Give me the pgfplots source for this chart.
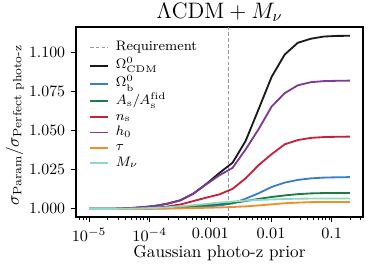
\RequirePackage{fix-cm}
\documentclass[border=0pt]{standalone}
\usepackage{amsmath}
\usepackage{pgfplots}
\usepackage{pgfplotstable}
\pgfplotsset{compat=1.18}
\definecolor{cCDM}{HTML}{1A1A1A}
\definecolor{cOb}{HTML}{3A7DC9}
\definecolor{cAs}{HTML}{1B7C45}
\definecolor{cns}{HTML}{C4213A}
\definecolor{ch}{HTML}{7D3A96}
\definecolor{ctau}{HTML}{EF8F2A}
\definecolor{cmnu}{HTML}{8ED8C5}
\pgfplotstableread{
x        cdm    ob     as     ns     h0     tau    mnu
1.000e-5 1.0000 1.0000 1.0000 1.0000 1.0000 1.0000 1.0000
1.641e-5 1.0000 1.0000 1.0000 1.0000 1.0000 1.0000 1.0000
2.692e-5 1.0001 1.0000 1.0000 1.0000 1.0001 1.0000 1.0000
4.417e-5 1.0004 1.0000 1.0001 1.0001 1.0004 1.0000 1.0001
7.248e-5 1.0010 1.0001 1.0003 1.0003 1.0010 1.0000 1.0003
1.189e-4 1.0018 1.0002 1.0005 1.0007 1.0018 1.0001 1.0006
1.951e-4 1.0033 1.0003 1.0008 1.0015 1.0033 1.0002 1.0010
3.201e-4 1.0055 1.0006 1.0012 1.0028 1.0054 1.0003 1.0016
5.253e-4 1.0098 1.0010 1.0018 1.0050 1.0097 1.0005 1.0024
8.619e-4 1.0160 1.0015 1.0024 1.0072 1.0158 1.0007 1.0032
1.414e-3 1.0230 1.0022 1.0030 1.0093 1.0215 1.0009 1.0040
2.321e-3 1.0295 1.0035 1.0037 1.0128 1.0262 1.0012 1.0047
3.808e-3 1.0434 1.0065 1.0050 1.0195 1.0380 1.0016 1.0053
6.248e-3 1.0638 1.0100 1.0064 1.0280 1.0510 1.0022 1.0057
1.025e-2 1.0845 1.0140 1.0076 1.0350 1.0655 1.0029 1.0060
1.682e-2 1.0987 1.0168 1.0086 1.0413 1.0740 1.0036 1.0063
2.760e-2 1.1062 1.0185 1.0094 1.0440 1.0790 1.0040 1.0065
4.529e-2 1.1088 1.0195 1.0099 1.0454 1.0810 1.0043 1.0066
7.431e-2 1.1102 1.0200 1.0101 1.0459 1.0817 1.0044 1.0066
0.1219   1.1106 1.0202 1.0102 1.0461 1.0819 1.0044 1.0066
0.2      1.1107 1.0203 1.0102 1.0462 1.0820 1.0044 1.0066
}\datatable
\begin{document}
\begin{tikzpicture}
\begin{axis}[
  at={(0pt,0pt)}, anchor=south west,
  scale only axis, width=172.2pt, height=114pt,
  xmode=log, xmin=6.095e-6, xmax=0.3281, ymin=0.9948, ymax=1.1163,
  xtick={1e-5,1e-4,1e-3,1e-2,1e-1},
  xticklabels={$10^{-5}$,$10^{-4}$,$0.001$,$0.01$,$0.1$},
  minor xtick={7e-6,8e-6,9e-6,2e-5,3e-5,4e-5,5e-5,6e-5,7e-5,8e-5,9e-5,2e-4,3e-4,4e-4,5e-4,6e-4,7e-4,8e-4,9e-4,2e-3,3e-3,4e-3,5e-3,6e-3,7e-3,8e-3,9e-3,2e-2,3e-2,4e-2,5e-2,6e-2,7e-2,8e-2,9e-2,0.2,0.3},
  ytick={1,1.025,1.05,1.075,1.1},
  yticklabels={1.000,1.025,1.050,1.075,1.100},
  tick align=outside, xtick pos=bottom, ytick pos=left,
  major tick length=3pt, minor tick length=1.8pt,
  every tick/.style={black, line width=0.5pt},
  axis line style={line width=0.8pt},
  tick label style={font=\fontsize{9.5}{11}\selectfont},
  label style={font=\fontsize{10.3}{12}\selectfont},
  xlabel={Gaussian photo-z prior},
  xlabel style={at={(axis description cs:0.5,0)}, anchor=base, yshift=-24pt},
  ylabel={$\sigma_{\mathrm{Param}}/\sigma_{\text{Perfect photo-z}}$},
  ylabel style={at={(axis description cs:-0.1992,0.484)}, anchor=base, rotate=0},
  legend cell align=left,
  legend style={draw=none, fill=none, at={(0,1)}, anchor=north west, xshift=7.6pt, yshift=-6.9pt,
    font=\fontsize{8.25}{9.5}\selectfont, inner sep=0pt, row sep=0pt,
    nodes={inner sep=0pt, text height=6.4pt, text depth=2.8pt},
    /tikz/every odd column/.append style={column sep=4.2pt}},
  legend image code/.code={\draw[#1] (0pt,0pt) -- (10.8pt,0pt);},
  every axis plot/.append style={line width=1.1pt},
]
\addplot[color=black!40, line width=0.5pt, dash pattern=on 2.2pt off 1.3pt] coordinates {(0.002,0.9948) (0.002,1.1163)};
\addlegendentry[text height=7.2pt, text depth=3.6pt]{Requirement}
\addplot[color=cCDM] table[x=x,y=cdm]{\datatable};
\addlegendentry[text height=7.2pt, text depth=3.6pt]{$\Omega^0_{\mathrm{CDM}}$}
\addplot[color=cOb] table[x=x,y=ob]{\datatable};
\addlegendentry[text height=7.2pt, text depth=3.6pt]{$\Omega^0_{\mathrm{b}}$}
\addplot[color=cAs] table[x=x,y=as]{\datatable};
\addlegendentry[text height=7.2pt, text depth=2.8pt]{$A_{\mathrm{s}}/A_{\mathrm{s}}^{\mathrm{fid}}$}
\addplot[color=cns] table[x=x,y=ns]{\datatable};
\addlegendentry{$n_{\mathrm{s}}$}
\addplot[color=ch] table[x=x,y=h0]{\datatable};
\addlegendentry{$h_0$}
\addplot[color=ctau] table[x=x,y=tau]{\datatable};
\addlegendentry{$\tau$}
\addplot[color=cmnu] table[x=x,y=mnu]{\datatable};
\addlegendentry{$M_\nu$}
\end{axis}
\node[anchor=base, font=\fontsize{13.4}{16}\selectfont] at (86.1pt,119.2pt) {$\Lambda\mathrm{CDM}+M_\nu$};
\pgfresetboundingbox
\path (-45.6pt,-30pt) rectangle (178.8pt,130.2pt);
\end{tikzpicture}
\end{document}
